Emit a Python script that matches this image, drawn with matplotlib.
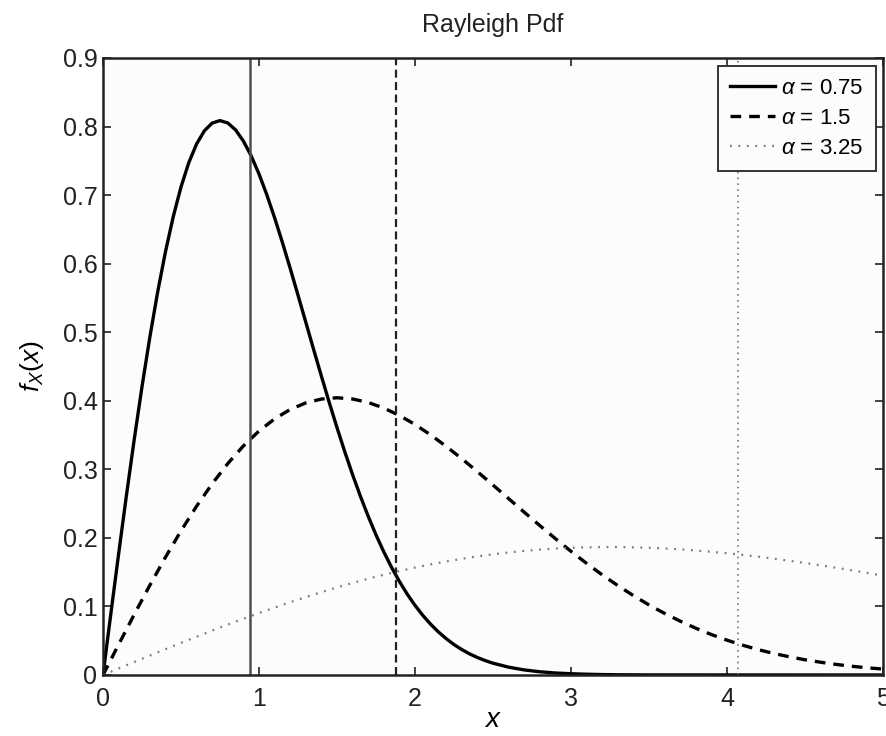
import numpy as np
import matplotlib
matplotlib.use("Agg")
import matplotlib.pyplot as plt

plt.rcParams["font.family"] = ["Liberation Sans", "DejaVu Sans"]
plt.rcParams["mathtext.fontset"] = "custom"
plt.rcParams["mathtext.it"] = "Liberation Sans:italic"
plt.rcParams["mathtext.rm"] = "Liberation Sans"

# x grids
x = np.linspace(0, 5, 51)
x_a = np.r_[np.linspace(0, 2.5, 51), np.linspace(2.6, 3.5, 10), 5.0]

# values
pdf_075 = [0.0, 0.0887, 0.1762, 0.2614, 0.3431, 0.4204, 0.4923, 0.5580, 0.6168, 0.6682,
           0.7118, 0.7473, 0.7746, 0.7938, 0.8051, 0.8087, 0.8052, 0.7951, 0.7788, 0.7572,
           0.7309, 0.7006, 0.6670, 0.6310, 0.5932, 0.5541, 0.5146, 0.4750, 0.4360, 0.3978,
           0.3609, 0.3256, 0.2922, 0.2608, 0.2315, 0.2044, 0.1796, 0.1569, 0.1365, 0.1180,
           0.1016, 0.0870, 0.0741, 0.0628, 0.0530, 0.0444, 0.0371, 0.0308, 0.0255, 0.0210,
           0.0172,
           0.0114, 0.0074, 0.0047, 0.0029, 0.0018, 0.0011, 0.0006, 0.0003, 0.0002, 0.0001,
           0.0]
pdf_15 = [0.0, 0.0443, 0.0881, 0.1307, 0.1716, 0.2102, 0.2462, 0.2790, 0.3084, 0.3341,
          0.3559, 0.3736, 0.3873, 0.3969, 0.4025, 0.4044, 0.4026, 0.3975, 0.3894, 0.3786,
          0.3654, 0.3503, 0.3335, 0.3155, 0.2966, 0.2771, 0.2573, 0.2375, 0.2180, 0.1989,
          0.1804, 0.1628, 0.1461, 0.1304, 0.1158, 0.1022, 0.0898, 0.0785, 0.0682, 0.0590,
          0.0508, 0.0435, 0.0370, 0.0314, 0.0265, 0.0222, 0.0186, 0.0154, 0.0127, 0.0105,
          0.0086]
pdf_325 = [0.0, 0.0095, 0.0189, 0.0283, 0.0376, 0.0468, 0.0558, 0.0648, 0.0735, 0.0820,
           0.0903, 0.0983, 0.1061, 0.1136, 0.1208, 0.1277, 0.1342, 0.1404, 0.1462, 0.1516,
           0.1567, 0.1614, 0.1656, 0.1695, 0.1730, 0.1761, 0.1787, 0.1810, 0.1829, 0.1844,
           0.1855, 0.1862, 0.1866, 0.1866, 0.1862, 0.1856, 0.1846, 0.1832, 0.1816, 0.1797,
           0.1776, 0.1752, 0.1725, 0.1697, 0.1666, 0.1634, 0.1600, 0.1564, 0.1527, 0.1489,
           0.1450]

labels = [r"$\alpha$ = 0.75", r"$\alpha$ = 1.5", r"$\alpha$ = 3.25"]
means = [0.94, 1.88, 4.07]

fig = plt.figure(figsize=(8.87, 7.36), dpi=100, facecolor="white")
ax = fig.add_axes([0.1161, 0.0829, 0.8794, 0.8383])
ax.set_facecolor("#fdfcfb")

ax.plot(x_a, pdf_075, color="black", lw=2.4, label=labels[0])
ax.plot(x, pdf_15, color="black", lw=2.4, ls=(0, (3.2, 2.4)), label=labels[1])
ax.plot(x, pdf_325, color="#777777", lw=1.6, ls=(0, (0.8, 3.0)), label=labels[2])

ax.axvline(means[0], color="#505050", lw=1.8)
ax.axvline(means[1], color="#222222", lw=1.6, ls=(0, (3.6, 2.0)))
ax.axvline(means[2], color="#777777", lw=1.2, ls=(0, (1, 2.5)))

ax.set_xlim(0, 5)
ax.set_ylim(0, 0.9)
ax.set_xticks([0, 1, 2, 3, 4, 5])
ax.set_yticks(np.arange(0, 0.91, 0.1))
ax.set_yticklabels(["0", "0.1", "0.2", "0.3", "0.4", "0.5", "0.6", "0.7", "0.8", "0.9"])
ax.tick_params(direction="in", length=6, width=1.2, labelsize=18, color="#222222",
               labelcolor="#222222", top=True, right=True)
ax.tick_params(axis="x", pad=9)
ax.tick_params(axis="y", pad=4)
for s in ax.spines.values():
    s.set_linewidth(1.8)
    s.set_color("#222222")

ax.set_title("Rayleigh Pdf", fontsize=18, pad=19, color="#222222")
ax.set_xlabel(r"$x$", fontsize=20, labelpad=-3)
ax.set_ylabel(r"$f_X(x)$", fontsize=19, labelpad=12)

leg = ax.legend(loc="upper right", fontsize=16, frameon=True, fancybox=False,
                handlelength=2.0, handletextpad=0.3, borderpad=0.55, labelspacing=0.4,
                borderaxespad=0, bbox_to_anchor=(0.991, 0.987))
leg.get_frame().set_edgecolor("#333333")
leg.get_frame().set_linewidth(1.4)
leg.get_frame().set_facecolor("#fdfcfb")
leg.get_frame().set_alpha(1)

fig.savefig("out.png", dpi=100, facecolor="white")
